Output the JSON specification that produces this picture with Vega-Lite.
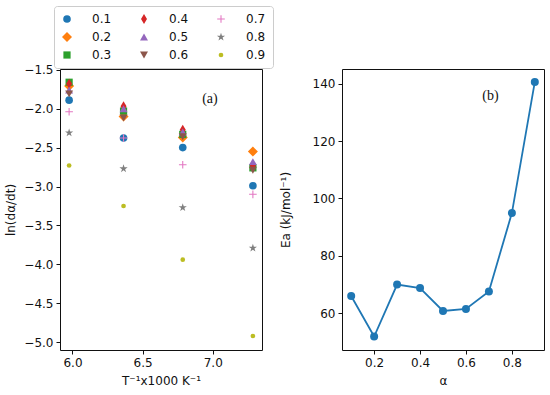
{
  "$schema": "https://vega.github.io/schema/vega-lite/v6.json",
  "autosize": {"type": "pad"},
  "padding": {"left": 4, "top": 5, "right": 6, "bottom": 4},
  "bounds": "flush",
  "spacing": 80,
  "background": "white",
  "config": {
    "font": "DejaVu Sans",
    "view": {"stroke": "#111", "strokeWidth": 1},
    "axis": {
      "grid": false, "domain": false, "labelFont": "DejaVu Sans", "labelFontSize": 12, "labelColor": "#111",
      "tickColor": "#111", "tickSize": 4, "labelPadding": 3,
      "titleFont": "DejaVu Sans", "titleFontSize": 12, "titleFontWeight": "normal", "titleColor": "#111"
    },
    "legend": {"labelFont": "DejaVu Sans", "labelFontSize": 12, "labelColor": "#111"}
  },
  "datasets": {
    "rates": [
      {"invT": 5.976, "lnr": -1.89, "alpha": "0.1"},
      {"invT": 6.364, "lnr": -2.377, "alpha": "0.1"},
      {"invT": 6.786, "lnr": -2.50, "alpha": "0.1"},
      {"invT": 7.286, "lnr": -2.99, "alpha": "0.1"},
      {"invT": 5.976, "lnr": -1.71, "alpha": "0.2"},
      {"invT": 6.364, "lnr": -2.10, "alpha": "0.2"},
      {"invT": 6.786, "lnr": -2.37, "alpha": "0.2"},
      {"invT": 7.286, "lnr": -2.55, "alpha": "0.2"},
      {"invT": 5.976, "lnr": -1.66, "alpha": "0.3"},
      {"invT": 6.364, "lnr": -2.03, "alpha": "0.3"},
      {"invT": 6.786, "lnr": -2.33, "alpha": "0.3"},
      {"invT": 7.286, "lnr": -2.76, "alpha": "0.3"},
      {"invT": 5.976, "lnr": -1.68, "alpha": "0.4"},
      {"invT": 6.364, "lnr": -1.97, "alpha": "0.4"},
      {"invT": 6.786, "lnr": -2.27, "alpha": "0.4"},
      {"invT": 7.286, "lnr": -2.73, "alpha": "0.4"},
      {"invT": 5.976, "lnr": -1.76, "alpha": "0.5"},
      {"invT": 6.364, "lnr": -2.00, "alpha": "0.5"},
      {"invT": 6.786, "lnr": -2.30, "alpha": "0.5"},
      {"invT": 7.286, "lnr": -2.68, "alpha": "0.5"},
      {"invT": 5.976, "lnr": -1.81, "alpha": "0.6"},
      {"invT": 6.364, "lnr": -2.12, "alpha": "0.6"},
      {"invT": 6.786, "lnr": -2.36, "alpha": "0.6"},
      {"invT": 7.286, "lnr": -2.79, "alpha": "0.6"},
      {"invT": 5.976, "lnr": -2.04, "alpha": "0.7"},
      {"invT": 6.364, "lnr": -2.377, "alpha": "0.7"},
      {"invT": 6.786, "lnr": -2.72, "alpha": "0.7"},
      {"invT": 7.286, "lnr": -3.10, "alpha": "0.7"},
      {"invT": 5.976, "lnr": -2.31, "alpha": "0.8"},
      {"invT": 6.364, "lnr": -2.77, "alpha": "0.8"},
      {"invT": 6.786, "lnr": -3.27, "alpha": "0.8"},
      {"invT": 7.286, "lnr": -3.79, "alpha": "0.8"},
      {"invT": 5.976, "lnr": -2.73, "alpha": "0.9"},
      {"invT": 6.364, "lnr": -3.25, "alpha": "0.9"},
      {"invT": 6.786, "lnr": -3.94, "alpha": "0.9"},
      {"invT": 7.286, "lnr": -4.92, "alpha": "0.9"}
    ],
    "ea": [
      {"alpha": 0.1, "Ea": 66.0},
      {"alpha": 0.2, "Ea": 51.9},
      {"alpha": 0.3, "Ea": 70.0},
      {"alpha": 0.4, "Ea": 68.8},
      {"alpha": 0.5, "Ea": 60.8},
      {"alpha": 0.6, "Ea": 61.5},
      {"alpha": 0.7, "Ea": 67.6},
      {"alpha": 0.8, "Ea": 94.9},
      {"alpha": 0.9, "Ea": 140.6}
    ],
    "labA": [{"x": 6.98, "y": -1.88, "t": "(a)"}],
    "labB": [{"x": 0.707, "y": 135.8, "t": "(b)"}]
  },
  "hconcat": [
    {
      "width": 202,
      "height": 281,
      "layer": [
        {
          "data": {"name": "rates"},
          "mark": {"type": "point", "filled": true, "opacity": 1, "strokeWidth": 0},
          "encoding": {
            "x": {"field": "invT", "type": "quantitative",
                  "scale": {"domain": [5.911, 7.351], "nice": false, "zero": false},
                  "axis": {"values": [6.0, 6.5, 7.0], "format": ".1f", "title": "T⁻¹x1000 K⁻¹", "titlePadding": 7}},
            "y": {"field": "lnr", "type": "quantitative",
                  "scale": {"domain": [-5.1, -1.49], "nice": false, "zero": false},
                  "axis": {"values": [-1.5, -2.0, -2.5, -3.0, -3.5, -4.0, -4.5, -5.0], "format": ".1f", "title": "ln(dα/dt)", "titlePadding": 6}},
            "color": {"field": "alpha", "type": "nominal",
                      "scale": {"domain": ["0.1", "0.4", "0.7", "0.2", "0.5", "0.8", "0.3", "0.6", "0.9"],
                                "range": ["#1f77b4", "#d62728", "#e377c2", "#ff7f0e", "#9467bd", "#7f7f7f", "#2ca02c", "#8c564b", "#bcbd22"]},
                      "legend": {"title": null, "orient": "none", "legendX": -6, "legendY": -63, "columns": 3,
                                 "direction": "horizontal", "padding": 7, "rowPadding": 6, "columnPadding": 26,
                                 "labelOffset": 19, "strokeColor": "#cccccc", "cornerRadius": 3, "fillColor": "white"}},
            "shape": {"field": "alpha", "type": "nominal",
                      "scale": {"domain": ["0.1", "0.4", "0.7", "0.2", "0.5", "0.8", "0.3", "0.6", "0.9"],
                                "range": ["circle",
                                          "M0,-1L0.6,0L0,1L-0.6,0Z",
                                          "M-1,-0.14L1,-0.14L1,0.14L-1,0.14ZM-0.14,-1L0.14,-1L0.14,1L-0.14,1Z",
                                          "diamond",
                                          "triangle-up",
                                          "M0,-1L0.2245,-0.309L0.9511,-0.309L0.3633,0.118L0.5878,0.809L0,0.382L-0.5878,0.809L-0.3633,0.118L-0.9511,-0.309L-0.2245,-0.309Z",
                                          "square",
                                          "triangle-down",
                                          "circle"]},
                      "legend": {"title": null, "orient": "none", "legendX": -6, "legendY": -63, "columns": 3}},
            "size": {"field": "alpha", "type": "nominal",
                     "scale": {"type": "ordinal", "domain": ["0.1", "0.4", "0.7", "0.2", "0.5", "0.8", "0.3", "0.6", "0.9"],
                               "range": [58, 100, 58, 100, 64, 75, 52, 64, 22]},
                     "legend": {"title": null, "orient": "none", "legendX": -6, "legendY": -63, "columns": 3}}
          }
        },
        {
          "data": {"name": "labA"},
          "mark": {"type": "text", "font": "Liberation Serif", "fontSize": 14, "color": "#111"},
          "encoding": {
            "x": {"field": "x", "type": "quantitative"},
            "y": {"field": "y", "type": "quantitative"},
            "text": {"field": "t"}
          }
        }
      ]
    },
    {
      "width": 202,
      "height": 281,
      "layer": [
        {
          "data": {"name": "ea"},
          "mark": {"type": "line", "color": "#1f77b4", "strokeWidth": 1.8},
          "encoding": {
            "x": {"field": "alpha", "type": "quantitative",
                  "scale": {"domain": [0.06, 0.94], "nice": false, "zero": false},
                  "axis": {"values": [0.2, 0.4, 0.6, 0.8], "format": ".1f", "title": "α", "titlePadding": 7}},
            "y": {"field": "Ea", "type": "quantitative",
                  "scale": {"domain": [47.2, 145.1], "nice": false, "zero": false},
                  "axis": {"values": [60, 80, 100, 120, 140], "title": "Ea (kJ/mol⁻¹)", "titlePadding": 20}}
          }
        },
        {
          "data": {"name": "ea"},
          "mark": {"type": "point", "filled": true, "opacity": 1, "color": "#1f77b4", "size": 64},
          "encoding": {
            "x": {"field": "alpha", "type": "quantitative"},
            "y": {"field": "Ea", "type": "quantitative"}
          }
        },
        {
          "data": {"name": "labB"},
          "mark": {"type": "text", "font": "Liberation Serif", "fontSize": 14, "color": "#111"},
          "encoding": {
            "x": {"field": "x", "type": "quantitative"},
            "y": {"field": "y", "type": "quantitative"},
            "text": {"field": "t"}
          }
        }
      ]
    }
  ]
}
